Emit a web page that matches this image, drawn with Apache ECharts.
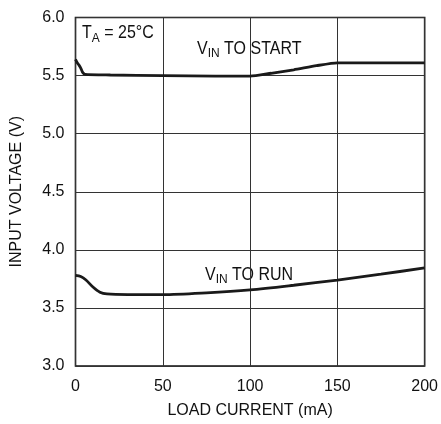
<!DOCTYPE html>
<html><head><meta charset="utf-8">
<script src="https://cdn.jsdelivr.net/npm/echarts@6/dist/echarts.min.js"></script>
<style>html,body{margin:0;padding:0;background:#fff}#c{width:441px;height:424px}</style>
</head><body><div id="c"></div>
<script>
var xTicks = [0, 50, 100, 150, 200];
var yTicks = ['3.0', '3.5', '4.0', '4.5', '5.0', '5.5', '6.0'];
var startX = [0, 1, 2, 3, 4, 5.5, 20, 50, 80, 100, 112, 125, 138, 150, 175, 200];
var startY = [5.64, 5.61, 5.59, 5.565, 5.53, 5.51, 5.505, 5.5, 5.495, 5.495, 5.52, 5.55, 5.585, 5.61, 5.61, 5.61];
var runX = [0, 3, 6, 10, 14, 18, 30, 50, 75, 100, 125, 150, 175, 200];
var runY = [3.78, 3.77, 3.74, 3.68, 3.635, 3.62, 3.615, 3.615, 3.63, 3.655, 3.695, 3.74, 3.79, 3.845];
var FONT = '"Liberation Sans", Arial, sans-serif';

function pairs(xs, ys) { return xs.map(function (x, i) { return [x, ys[i]]; }); }
function label(x, y, main, sub, rest) {
  return { type: 'text', x: x, y: y, scaleX: 1, scaleY: 1.13, originX: 0, originY: 0,
    style: { text: '{m|' + main + '}{s|' + sub + '}{m|' + rest + '}', verticalAlign: 'top', rich: {
      m: { fontFamily: FONT, fontSize: 16, fill: '#111' },
      s: { fontFamily: FONT, fontSize: 12, fill: '#111', padding: [8, 0, 0, 0] } } } };
}

var chart = echarts.init(document.getElementById('c'));
chart.setOption({
  animation: false,
  grid: { left: 75.5, right: 14.5, top: 17.5, bottom: 56, show: true, borderColor: '#111', borderWidth: 1.6 },
  xAxis: {
    type: 'value', min: 0, max: 200, interval: 50,
    name: 'LOAD CURRENT (mA)', nameLocation: 'middle', nameGap: 37,
    nameTextStyle: { fontFamily: FONT, fontSize: 16, color: '#111' },
    axisLine: { show: false }, axisTick: { show: false },
    axisLabel: { fontFamily: FONT, fontSize: 16, color: '#111', margin: 13,
      formatter: function (v) { return String(xTicks[Math.round(v / 50)]); } },
    splitLine: { show: true, lineStyle: { color: '#333', width: 1 } }
  },
  yAxis: {
    type: 'value', min: 3.0, max: 6.0, interval: 0.5,
    name: 'INPUT VOLTAGE (V)', nameLocation: 'middle', nameGap: 51, nameRotate: 90,
    nameTextStyle: { fontFamily: FONT, fontSize: 16, color: '#111' },
    axisLine: { show: false }, axisTick: { show: false },
    axisLabel: { fontFamily: FONT, fontSize: 16, color: '#111', margin: 11,
      formatter: function (v) { return yTicks[Math.round((v - 3) / 0.5)]; } },
    splitLine: { show: true, lineStyle: { color: '#333', width: 1 } }
  },
  series: [
    { type: 'line', data: pairs(startX, startY), smooth: 0.2, showSymbol: false,
      lineStyle: { color: '#1a1a1a', width: 2.8 } },
    { type: 'line', data: pairs(runX, runY), smooth: 0.3, showSymbol: false,
      lineStyle: { color: '#1a1a1a', width: 2.8 } }
  ],
  graphic: [
    label(82, 22, 'T', 'A', ' = 25°C'),
    label(197, 37.5, 'V', 'IN', ' TO START'),
    label(205, 263.5, 'V', 'IN', ' TO RUN')
  ]
});
</script></body></html>
